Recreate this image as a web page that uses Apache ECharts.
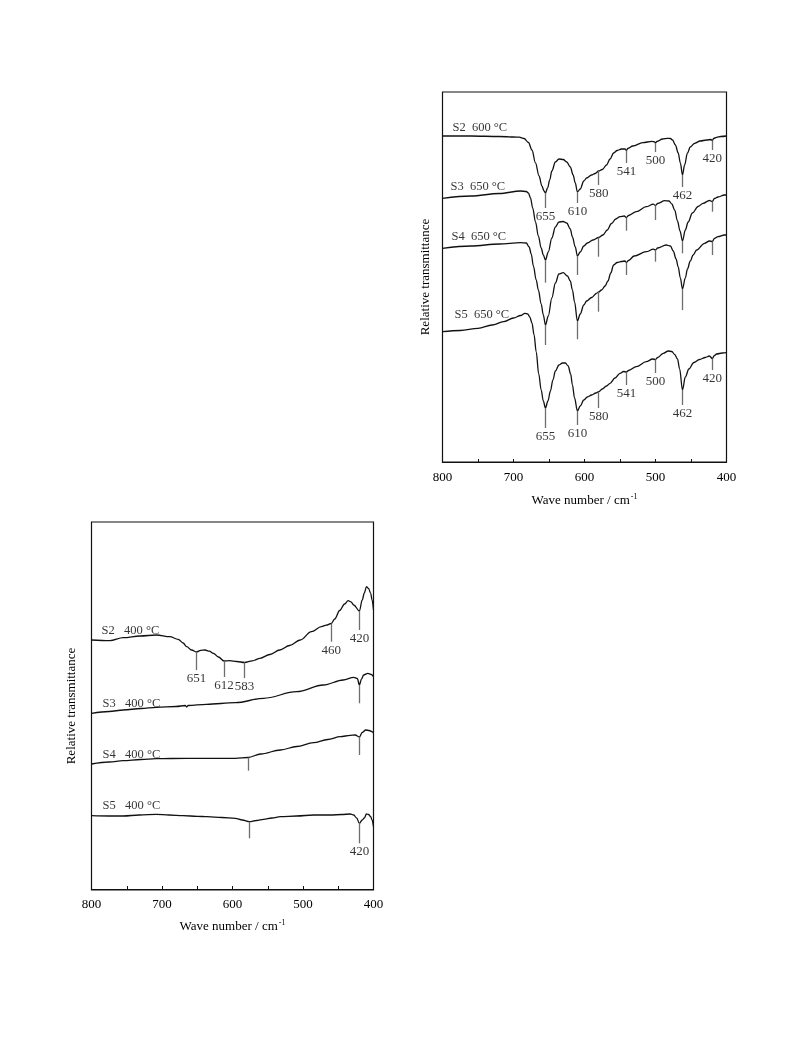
<!DOCTYPE html>
<html><head><meta charset="utf-8">
<script src="https://cdn.jsdelivr.net/npm/echarts@6/dist/echarts.min.js"></script>
<style>html,body{margin:0;padding:0;background:#fff}#c{width:797px;height:1064px;filter:grayscale(100%)}</style>
</head><body><div id="c"></div>
<script>
// ---------- tick labels ----------
const xTickLabels = [800, 700, 600, 500, 400];

// ---------- upper panel: S2 600 °C, S3–S5 650 °C (relative transmittance, arb. units) ----------
const aS2 = [[800,326],[760,326],[720,325.5],[700,325],[692,324.8],[685,323.5],[679,319.5],[674,312],[669,299],[664,286],[660,276],[657,271],[655,269],[652,274],[649,282],[646,291],[641,300],[636,303],[630,302.5],[625,300],[620,295],[616,287],[613,279],[610,270],[606,273],[601,281],[597,284],[590,287],[585,288.5],[580,291],[575,292.5],[569,297],[564,303],[559,309],[554,311.5],[548,313],[543,313],[541,311.5],[539,313.5],[532,316],[518,319.3],[505,320.7],[501,320],[500,319],[498,320.5],[490,323],[483,323.7],[479,323.5],[476,322],[472,317],[468,309],[465,299],[462,287],[459,297],[455,309],[451,315],[445,318.7],[437,321],[428,322],[422,322.5],[420,321.5],[418,323.5],[414,324.7],[408,325.5],[400,326]];
const aS3 = [[800,263.7],[760,266],[720,268.5],[690,271],[682,270.5],[679,269],[676,264],[673,254],[669,240],[665,226],[661,214],[658,207],[655,202],[651,210],[646,224],[641,235],[636,240],[630,240.5],[625,239],[620,233],[617,225],[613,215],[610,206],[606,210],[601,216],[596,219],[588,222],[580,224.5],[574,227],[568,232],[562,238.5],[556,243],[550,245.3],[544,246],[541,244.5],[538,246.5],[527,250.3],[513,255.3],[503,257.8],[500,256.5],[497,258.5],[487,261.3],[481,261],[477,258],[473,252],[469,241],[465.5,231],[462,221],[458,232],[454,240],[448,249],[440,255.5],[433,258.7],[424,261.5],[420,260.5],[417,263.5],[412,265],[403,267],[400,267]];
const aS4 = [[800,213.7],[760,216],[720,218],[690,219.3],[682,219],[678,215],[675,208],[672,196],[668,182],[665,172],[661,158],[658,147],[655,137],[651,146],[646,164],[641,179],[636,188],[630,189.3],[624,186],[620,181],[617,172],[614,160],[610,141],[606,148],[601,157],[597,161],[590,164.5],[583,168.7],[580,170],[576,172],[571,176],[567,181],[563,189],[559,197],[554,199.5],[548,200.5],[543,201],[541,199.5],[538,201.5],[530,206],[513,210.3],[503,212.8],[500,212],[497,214],[485,217],[479,216],[475,211],[471,203],[468,195],[465,184],[462,173],[458,184],[455,193],[451,201],[447,207],[442,212],[431,218.7],[424,221],[420,220.5],[417,223.5],[412,225.3],[403,227],[400,227]];
const aS5 = [[800,130.3],[775,131.5],[750,133.7],[730,137],[714,140.3],[700,144],[690,146.5],[684,148.7],[680,148],[677,145],[674,139],[671,127],[668,110],[664.5,88],[661,72],[658,61],[655,54],[651.5,61],[648,71],[644.5,82],[641,91],[636,97],[631,99],[627,99],[623,96],[619.5,88],[617,77],[614,64],[610,51],[606,56],[601,62],[596,65],[590,67],[584,69],[580,70.3],[575,73],[569,76],[564,78.7],[557,84],[550,88.7],[545,90.5],[541,90],[538,91.5],[527,95.3],[513,100.3],[504,103],[500,102.5],[497,104.5],[489,108.7],[482,111],[477,110.5],[473,107.5],[469,103],[466,93],[462,72],[458,85],[453,93],[446,99.5],[438,102.5],[430,104.5],[424,106],[420,103.5],[417,106.5],[414,108],[406,109],[400,109.3]];
// band markers: [wave number, lower end of marker]
const aS2Marks = [[655,254],[610,259],[580,277],[541,299],[500,310],[462,275],[420,312]];
const aS3Marks = [[655,179.3],[610,187],[580,205.3],[541,231.3],[500,242],[462,208.7],[420,250.3]];
const aS4Marks = [[655,117],[610,122.7],[580,150.3],[541,187],[500,200.3],[462,152],[420,207]];
const aS5Marks = [[655,34],[610,37],[580,54],[541,77],[500,89],[462,57],[420,92]];
const aS2Labeled = [655,610,580,541,500,462,420];
const aS5Labeled = [655,610,580,541,500,462,420];

// ---------- lower panel: S2–S5 400 °C ----------
const bS2 = [[800,249],[774,248.3],[755,251.3],[731,253],[708,254],[689,252.3],[677,249.7],[670,246],[665,242.3],[658,239],[651,237],[645,238.7],[639,239],[633,237.8],[627,235.7],[620,232],[612,228],[604,228.3],[594,227.5],[583,226.5],[572,228.2],[561,230.7],[547,234.5],[533,239],[519,243.5],[504,249],[488,257.3],[474,262.3],[467,263.8],[460,265.5],[455,270],[448,278.5],[441,285],[436,288.3],[432,287.2],[428,284],[420,278],[416,289],[413,296],[410,302.3],[407,300.5],[404,295.7],[402,289],[400,279]];
const bS3 = [[800,175.7],[775,177.5],[755,179],[730,180.5],[708,181.7],[680,182.5],[667,183.5],[665,182],[663,183.5],[637,184.7],[596,186.3],[556,190.7],[509,197.3],[471,204],[443,209],[428,211.7],[423,210.5],[420,204],[417,210],[414,214],[408,215.7],[403,214.5],[400,212.3]];
const bS4 = [[800,125],[775,127],[755,128.3],[730,129.5],[708,130.3],[665,130.7],[620,130.7],[596,130.7],[578,131.5],[560,135],[532,139],[509,142.5],[485,146.3],[465,149.5],[447,152.3],[433,153.7],[426,154],[420,152],[416,156.5],[411,159],[406,158.5],[402,157.3],[400,155.7]];
const bS5 = [[800,73.3],[775,73],[755,73],[732,74],[708,74.7],[690,74],[670,73.3],[650,72.7],[636,72.3],[615,71.5],[596,70.7],[586,69],[576,67.3],[566,68.5],[556,69.7],[544,71],[532,72.3],[509,73],[485,74],[461,74],[445,74.5],[433,75],[428,74],[424,71],[420,65.7],[416,69],[413,71],[410,75],[407,74.5],[404,72.3],[402,69],[400,62.3]];
const bS2Marks = [[651,219],[612,212],[583,211],[460,247.3],[420,259]];
const bS3Marks = [[420,185.7]];
const bS4Marks = [[578,118.3],[420,134]];
const bS5Marks = [[576,50.7],[420,45.7]];
const bS2Labeled = [651,612,583,460,420];
const bS5Labeled = [420];

const FONT = 'Liberation Serif';
const INK = '#000';
const TXT = '#000';
const FS = 13;

function yAt(data, wn) { const p = data.find(d => d[0] === wn); return p ? p[1] : null; }
function txt(size) {
  return { color: TXT, fontFamily: FONT, fontSize: size, textBorderWidth: 0, textBorderColor: 'transparent', textShadowBlur: 0 };
}

function spectrum(g, name, data, marks, labeled, nameOffset) {
  const out = [];
  out.push({
    type: 'line', xAxisIndex: g, yAxisIndex: g, data: data, symbol: 'none', showSymbol: false,
    smooth: 0.35, smoothMonotone: 'x', silent: true, animation: false,
    color: INK, itemStyle: { color: INK },
    lineStyle: { color: '#111', width: 1.3 },
    markLine: {
      silent: true, animation: false, symbol: ['none', 'none'], label: { show: false },
      lineStyle: { color: '#6e6e6e', width: 1.3, type: 'solid' }, emphasis: { disabled: true },
      data: marks.map(m => [{ coord: [m[0], yAt(data, m[0])] }, { coord: [m[0], m[1]] }])
    }
  });
  const lab = marks.filter(m => labeled.includes(m[0]));
  if (lab.length) out.push({
    type: 'scatter', xAxisIndex: g, yAxisIndex: g, symbolSize: 0, silent: true, animation: false,
    color: TXT, itemStyle: { color: TXT },
    data: lab.map(m => ({ value: [m[0], m[1]], name: String(m[0]) })),
    label: Object.assign({ show: true, position: 'bottom', distance: 1, formatter: '{b}' }, txt(FS))
  });
  out.push({
    type: 'scatter', xAxisIndex: g, yAxisIndex: g, symbolSize: 0, silent: true, animation: false,
    color: TXT, itemStyle: { color: TXT },
    data: [{ value: data[0], name: name }],
    label: Object.assign({ show: true, position: nameOffset, formatter: '{b}' }, txt(12.5))
  });
  return out;
}

function xAxis(g, nameGap, margin) {
  return {
    gridIndex: g, type: 'value', min: 400, max: 800, interval: 50, inverse: true,
    axisLine: { show: true, lineStyle: { color: '#111', width: 1.2 } },
    axisTick: { show: true, inside: true, length: 3, lineStyle: { color: '#111', width: 1 } },
    axisLabel: Object.assign({ formatter: v => xTickLabels.includes(v) ? String(v) : '', margin: margin }, txt(FS)),
    splitLine: { show: false },
    name: '{t|Wave number / cm}{s|-1}', nameLocation: 'middle', nameGap: nameGap,
    nameTextStyle: Object.assign(txt(FS), {
      rich: { t: Object.assign(txt(FS), { lineHeight: 15 }),
              s: Object.assign(txt(8), { lineHeight: 15, verticalAlign: 'top', padding: [0, 0, 0, 1] }) } })
  };
}
function yAxis(g, min, max, nameGap) {
  return {
    gridIndex: g, type: 'value', min: min, max: max,
    axisLine: { show: false }, axisTick: { show: false }, axisLabel: { show: false }, splitLine: { show: false },
    name: 'Relative transmittance', nameLocation: 'middle', nameRotate: 90, nameGap: nameGap,
    nameTextStyle: txt(FS)
  };
}

const chart = echarts.init(document.getElementById('c'), null, { renderer: 'svg', width: 797, height: 1064 });
chart.setOption({
  backgroundColor: '#fff',
  color: [TXT],
  animation: false,
  textStyle: { color: TXT, fontFamily: FONT },
  grid: [
    { left: 442.5, top: 92, width: 284, height: 370, show: true, borderColor: '#111', borderWidth: 1.2, backgroundColor: 'transparent' },
    { left: 91.5, top: 522, width: 282, height: 368, show: true, borderColor: '#111', borderWidth: 1.2, backgroundColor: 'transparent' }
  ],
  xAxis: [xAxis(0, 30, 8), xAxis(1, 28, 7)],
  yAxis: [yAxis(0, 0, 370, 12), yAxis(1, -1, 367, 15)],
  series: [].concat(
    spectrum(0, 'S2\u00a0\u00a0600 °C', aS2, aS2Marks, aS2Labeled, [10, -15.5]),
    spectrum(0, 'S3\u00a0\u00a0650 °C', aS3, aS3Marks, [], [8, -18.5]),
    spectrum(0, 'S4\u00a0\u00a0650 °C', aS4, aS4Marks, [], [9, -18.5]),
    spectrum(0, 'S5\u00a0\u00a0650 °C', aS5, aS5Marks, aS5Labeled, [12, -24]),
    spectrum(1, 'S2\u00a0\u00a0\u00a0400 °C', bS2, bS2Marks, bS2Labeled, [10, -17]),
    spectrum(1, 'S3\u00a0\u00a0\u00a0400 °C', bS3, bS3Marks, [], [11, -17]),
    spectrum(1, 'S4\u00a0\u00a0\u00a0400 °C', bS4, bS4Marks, [], [11, -17]),
    spectrum(1, 'S5\u00a0\u00a0\u00a0400 °C', bS5, bS5Marks, bS5Labeled, [11, -17])
  )
});
</script>
</body></html>
